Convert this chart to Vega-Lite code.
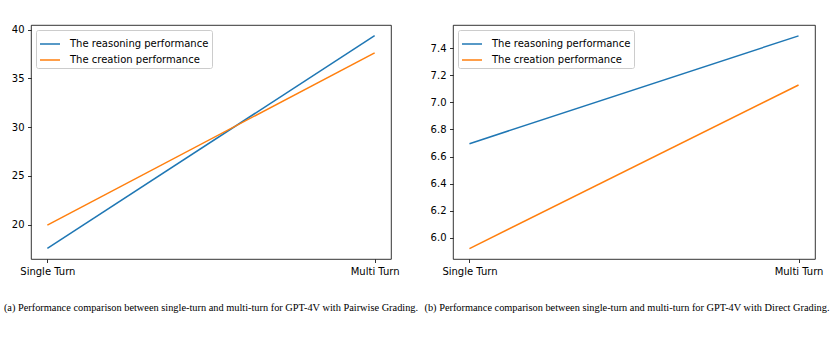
{
  "$schema": "https://vega.github.io/schema/vega-lite/v6.json",
  "background": "white",
  "padding": {"left": 0, "top": 24, "right": 0, "bottom": 0},
  "config": {
    "view": {"stroke": "black", "strokeWidth": 0.8},
    "axis": {
      "domain": false,
      "grid": false,
      "ticks": true,
      "tickColor": "black",
      "tickSize": 3.5,
      "tickWidth": 0.8,
      "labelFont": "DejaVu Sans",
      "labelFontSize": 10,
      "labelColor": "black",
      "labelPadding": 3.5,
      "title": null
    },
    "legend": {
      "orient": "top-left",
      "offset": 5,
      "title": null,
      "fillColor": "white",
      "strokeColor": "#cccccc",
      "cornerRadius": 2,
      "padding": 3,
      "labelFont": "DejaVu Sans",
      "labelFontSize": 10,
      "labelColor": "black",
      "symbolType": "stroke",
      "symbolSize": 400,
      "symbolStrokeWidth": 1.5,
      "labelOffset": 9,
      "rowPadding": 0
    },
    "title": {
      "orient": "bottom",
      "anchor": "middle",
      "font": "Liberation Serif",
      "fontSize": 10.35,
      "fontWeight": "normal",
      "color": "black",
      "offset": 27
    }
  },
  "bounds": "flush",
  "spacing": 62,
  "hconcat": [
    {
      "width": 360,
      "height": 234,
      "title": "(a) Performance comparison between single-turn and multi-turn for GPT-4V with Pairwise Grading.",
      "data": {"values": [
        {"turn": "Single Turn", "series": "The reasoning performance", "value": 17.57},
        {"turn": "Multi Turn", "series": "The reasoning performance", "value": 39.38},
        {"turn": "Single Turn", "series": "The creation performance", "value": 19.95},
        {"turn": "Multi Turn", "series": "The creation performance", "value": 37.62}
      ]},
      "mark": {"type": "line", "strokeWidth": 1.5},
      "encoding": {
        "x": {"field": "turn", "type": "ordinal", "sort": ["Single Turn", "Multi Turn"],
              "scale": {"type": "point", "padding": 0.05},
              "axis": {"labelAngle": 0}},
        "y": {"field": "value", "type": "quantitative",
              "scale": {"domain": [16.48, 40.47], "nice": false, "zero": false},
              "axis": {"values": [20, 25, 30, 35, 40], "minExtent": 30, "maxExtent": 30}},
        "color": {"field": "series", "type": "nominal",
                  "scale": {"domain": ["The reasoning performance", "The creation performance"], "range": ["#1f77b4", "#ff7f0e"]}}
      }
    },
    {
      "width": 362,
      "height": 234,
      "title": {"text": "(b) Performance comparison between single-turn and multi-turn for GPT-4V with Direct Grading.", "dx": -7},
      "data": {"values": [
        {"turn": "Single Turn", "series": "The reasoning performance", "value": 6.695},
        {"turn": "Multi Turn", "series": "The reasoning performance", "value": 7.49},
        {"turn": "Single Turn", "series": "The creation performance", "value": 5.922},
        {"turn": "Multi Turn", "series": "The creation performance", "value": 7.128}
      ]},
      "mark": {"type": "line", "strokeWidth": 1.5},
      "encoding": {
        "x": {"field": "turn", "type": "ordinal", "sort": ["Single Turn", "Multi Turn"],
              "scale": {"type": "point", "padding": 0.05},
              "axis": {"labelAngle": 0}},
        "y": {"field": "value", "type": "quantitative",
              "scale": {"domain": [5.845, 7.57], "nice": false, "zero": false},
              "axis": {"values": [6.0, 6.2, 6.4, 6.6, 6.8, 7.0, 7.2, 7.4], "format": ".1f", "minExtent": 30, "maxExtent": 30}},
        "color": {"field": "series", "type": "nominal",
                  "scale": {"domain": ["The reasoning performance", "The creation performance"], "range": ["#1f77b4", "#ff7f0e"]}}
      }
    }
  ],
  "resolve": {"scale": {"color": "independent"}, "legend": {"color": "independent"}}
}
